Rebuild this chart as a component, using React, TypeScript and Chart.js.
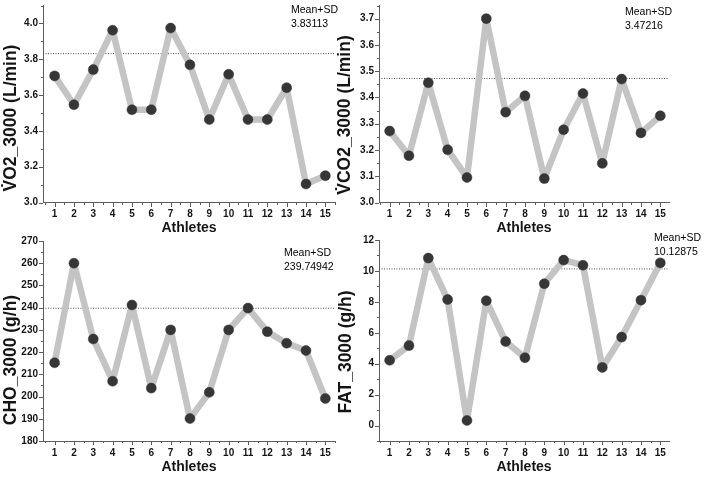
import React, { useEffect, useRef } from "react";
import { Chart, registerables } from "chart.js";

Chart.register(...registerables);

const FONT = "'Liberation Sans', Arial, Helvetica, sans-serif";

// ---------- data ----------
const athletes = [1, 2, 3, 4, 5, 6, 7, 8, 9, 10, 11, 12, 13, 14, 15];
const xTickValues = [1, 2, 3, 4, 5, 6, 7, 8, 9, 10, 11, 12, 13, 14, 15];

const vo2Values = [3.707, 3.546, 3.742, 3.962, 3.518, 3.518, 3.974, 3.769, 3.463, 3.716, 3.463, 3.463, 3.641, 3.103, 3.15];
const vco2Values = [3.272, 3.178, 3.456, 3.201, 3.095, 3.7, 3.344, 3.406, 3.091, 3.277, 3.415, 3.149, 3.47, 3.265, 3.33];
const choValues = [215.2, 260.0, 225.9, 206.9, 241.2, 203.8, 230.0, 190.1, 201.9, 230.0, 239.8, 229.2, 224.0, 220.7, 199.1];
const fatValues = [4.22, 5.17, 10.83, 8.15, 0.33, 8.07, 5.43, 4.39, 9.17, 10.7, 10.37, 3.76, 5.72, 8.11, 10.52];

const vo2MeanSD = 3.83113;
const vco2MeanSD = 3.47216;
const choMeanSD = 239.74942;
const fatMeanSD = 10.12875;

const vo2Ticks = [3.0, 3.2, 3.4, 3.6, 3.8, 4.0];
const vco2Ticks = [3.0, 3.1, 3.2, 3.3, 3.4, 3.5, 3.6, 3.7];
const choTicks = [180, 190, 200, 210, 220, 230, 240, 250, 260, 270];
const fatTicks = [0, 2, 4, 6, 8, 10, 12];

const meanLabelTitle = "Mean+SD";
const xAxisTitle = "Athletes";

// ---------- styles / layout ----------
const LINE_COLOR = "#c4c4c4";
const POINT_COLOR = "#363636";
const AXIS_COLOR = "#5c5c5c";
const TEXT_COLOR = "#151515";
const Y_SCALE_WIDTH = 43;
const X_SCALE_HEIGHT = 34.5;
const W = 704;
const H = 478;

type PanelSpec = {
  values: number[];
  yTicks: number[];
  decimals: number;
  yMin: number;
  yMax: number;
  xMin: number;
  xMax: number;
  meanSD: number;
  yTitle: string;
  area: { left: number; top: number; right: number; bottom: number };
  titlePos: { x: number; y: number };
  labelPos: { x: number; y1: number; y2: number };
};

const panels: PanelSpec[] = [
  {
    values: vo2Values, yTicks: vo2Ticks, decimals: 1, yMin: 3.0, yMax: 4.1, xMin: 0.4, xMax: 15.5,
    meanSD: vo2MeanSD, yTitle: "V\u0307O2_3000 (L/min)",
    area: { left: 43, top: 2, right: 335, bottom: 202.5 },
    titlePos: { x: 16, y: 118 }, labelPos: { x: 291, y1: 13, y2: 27 },
  },
  {
    values: vco2Values, yTicks: vco2Ticks, decimals: 1, yMin: 3.0, yMax: 3.75, xMin: 0.45, xMax: 15.45,
    meanSD: vco2MeanSD, yTitle: "V\u0307CO2_3000 (L/min)",
    area: { left: 379, top: 3, right: 669, bottom: 202.5 },
    titlePos: { x: 350, y: 115 }, labelPos: { x: 625, y1: 15, y2: 29 },
  },
  {
    values: choValues, yTicks: choTicks, decimals: 0, yMin: 180, yMax: 270, xMin: 0.4, xMax: 15.5,
    meanSD: choMeanSD, yTitle: "CHO_3000 (g/h)",
    area: { left: 43, top: 241, right: 335, bottom: 441 },
    titlePos: { x: 16, y: 360 }, labelPos: { x: 284, y1: 256, y2: 270 },
  },
  {
    values: fatValues, yTicks: fatTicks, decimals: 0, yMin: -1, yMax: 12, xMin: 0.45, xMax: 15.45,
    meanSD: fatMeanSD, yTitle: "FAT_3000 (g/h)",
    area: { left: 379, top: 240, right: 669, bottom: 441 },
    titlePos: { x: 351, y: 352 }, labelPos: { x: 654, y1: 241, y2: 255 },
  },
];

function minorValues(majors: number[], min: number, max: number): number[] {
  const out: number[] = [];
  if (majors.length < 2) return out;
  const step = majors[1] - majors[0];
  const first = majors[0] - step / 2;
  if (first >= min - 1e-9) out.push(first);
  for (let i = 0; i < majors.length - 1; i++) out.push((majors[i] + majors[i + 1]) / 2);
  const last = majors[majors.length - 1] + step / 2;
  if (last <= max + 1e-9) out.push(last);
  return out;
}

function makeDecorPlugin(p: PanelSpec) {
  return {
    id: "decor",
    afterDraw(chart: any) {
      const { ctx, chartArea } = chart;
      const xs = chart.scales.x;
      const ys = chart.scales.y;
      ctx.save();
      ctx.strokeStyle = AXIS_COLOR;
      ctx.lineWidth = 1;
      ctx.beginPath();
      const left = Math.round(chartArea.left);
      const bottom = Math.round(chartArea.bottom);
      for (const v of p.yTicks) {
        const y = Math.round(ys.getPixelForValue(v)) + 0.5;
        ctx.moveTo(left - 4, y);
        ctx.lineTo(left, y);
      }
      for (const v of minorValues(p.yTicks, p.yMin, p.yMax)) {
        const y = Math.round(ys.getPixelForValue(v)) + 0.5;
        ctx.moveTo(left - 2, y);
        ctx.lineTo(left, y);
      }
      for (const v of xTickValues) {
        const x = Math.round(xs.getPixelForValue(v)) + 0.5;
        ctx.moveTo(x, bottom);
        ctx.lineTo(x, bottom + 4);
      }
      for (const v of minorValues(xTickValues, p.xMin, p.xMax)) {
        const x = Math.round(xs.getPixelForValue(v)) + 0.5;
        ctx.moveTo(x, bottom);
        ctx.lineTo(x, bottom + 2);
      }
      ctx.stroke();

      // Y-axis title
      ctx.save();
      ctx.fillStyle = TEXT_COLOR;
      ctx.font = `bold 17.5px ${FONT}`;
      ctx.translate(p.titlePos.x, p.titlePos.y);
      ctx.rotate(-Math.PI / 2);
      ctx.textAlign = "center";
      ctx.textBaseline = "alphabetic";
      ctx.fillText(p.yTitle, 0, 0);
      ctx.restore();

      // Mean+SD label
      ctx.fillStyle = "#000000";
      ctx.font = `10.5px ${FONT}`;
      ctx.textAlign = "left";
      ctx.textBaseline = "alphabetic";
      ctx.fillText(meanLabelTitle, p.labelPos.x, p.labelPos.y1);
      ctx.fillText(String(p.meanSD), p.labelPos.x, p.labelPos.y2);
      ctx.restore();
    },
  };
}

function Panel({ spec }: { spec: PanelSpec }) {
  const ref = useRef<HTMLCanvasElement | null>(null);
  useEffect(() => {
    if (!ref.current) return;
    const p = spec;
    const chart = new Chart(ref.current, {
      type: "line",
      data: {
        datasets: [
          {
            data: athletes.map((a, i) => ({ x: a, y: p.values[i] })),
            borderColor: LINE_COLOR,
            borderWidth: 6.5,
            borderJoinStyle: "round",
            borderCapStyle: "round",
            pointRadius: 5,
            pointBackgroundColor: POINT_COLOR,
            pointBorderColor: POINT_COLOR,
            pointBorderWidth: 0.5,
            tension: 0,
            fill: false,
          },
          {
            data: [
              { x: p.xMin, y: p.meanSD },
              { x: p.xMax, y: p.meanSD },
            ],
            borderColor: "#505050",
            borderWidth: 1,
            borderDash: [1, 1.5],
            pointRadius: 0,
            tension: 0,
            fill: false,
          },
        ],
      } as any,
      options: {
        animation: false,
        responsive: false,
        events: [],
        layout: {
          padding: {
            left: p.area.left - Y_SCALE_WIDTH,
            top: p.area.top,
            right: W - p.area.right,
            bottom: H - (p.area.bottom + X_SCALE_HEIGHT),
          },
        },
        plugins: {
          legend: { display: false },
          tooltip: { enabled: false },
        },
        scales: {
          x: {
            type: "linear",
            min: p.xMin,
            max: p.xMax,
            afterBuildTicks: (s: any) => {
              s.ticks = xTickValues.map((v) => ({ value: v }));
            },
            afterFit: (s: any) => {
              s.height = X_SCALE_HEIGHT;
              s.paddingLeft = 0;
              s.paddingRight = 0;
            },
            grid: { display: false, drawTicks: false },
            border: { display: true, color: AXIS_COLOR, width: 1 },
            ticks: {
              padding: 6,
              autoSkip: false,
              maxRotation: 0,
              color: TEXT_COLOR,
              font: { family: FONT, size: 10, weight: "bold" },
              callback: (v: any) => String(v),
            },
            title: {
              display: true,
              text: xAxisTitle,
              color: TEXT_COLOR,
              font: { family: FONT, size: 14, weight: "bold" },
              padding: 0,
            },
          },
          y: {
            type: "linear",
            min: p.yMin,
            max: p.yMax,
            afterBuildTicks: (s: any) => {
              s.ticks = p.yTicks.map((v) => ({ value: v }));
            },
            afterFit: (s: any) => {
              s.width = Y_SCALE_WIDTH;
              s.paddingTop = 0;
              s.paddingBottom = 0;
            },
            grid: { display: false, drawTicks: false },
            border: { display: true, color: AXIS_COLOR, width: 1 },
            ticks: {
              padding: 5,
              autoSkip: false,
              color: TEXT_COLOR,
              font: { family: FONT, size: 10, weight: "bold" },
              callback: (v: any) => Number(v).toFixed(p.decimals),
            },
          },
        },
      } as any,
      plugins: [makeDecorPlugin(p)],
    });
    return () => chart.destroy();
  }, [spec]);
  return (
    <canvas
      ref={ref}
      width={W}
      height={H}
      style={{ position: "absolute", left: 0, top: 0, width: W, height: H }}
    />
  );
}

export default function App() {
  return (
    <div
      style={{
        position: "fixed",
        left: 0,
        top: 0,
        width: W,
        height: H,
        background: "#ffffff",
        overflow: "hidden",
      }}
    >
      {panels.map((p, i) => (
        <Panel key={i} spec={p} />
      ))}
    </div>
  );
}
